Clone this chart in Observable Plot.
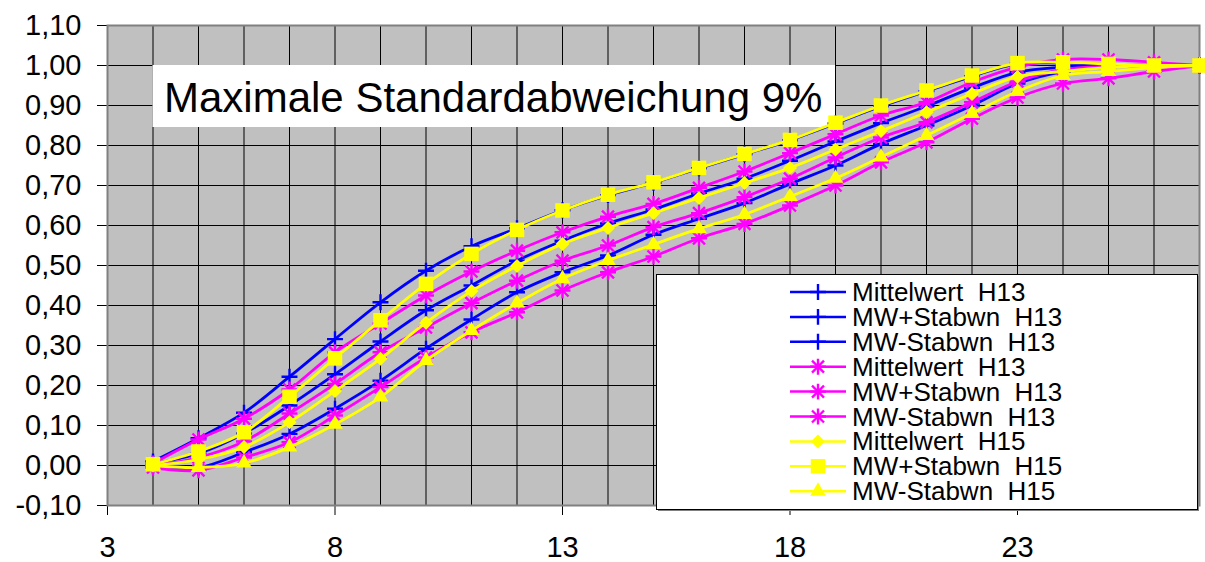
<!DOCTYPE html>
<html><head><meta charset="utf-8">
<script src="https://cdn.jsdelivr.net/npm/d3@7"></script>
<script src="https://cdn.jsdelivr.net/npm/@observablehq/plot@0.6"></script>
<style>
html,body{margin:0;padding:0;background:#fff}
#chart{position:relative;width:1205px;height:562px;overflow:hidden}
</style></head><body><div id="chart"></div>
<script>
// ---- data ----
const xValues = [4,5,6,7,8,9,10,11,12,13,14,15,16,17,18,19,20,21,22,23,24,25,26,27];
const blueMean  = [0.005,0.03,0.08,0.15,0.228,0.31,0.388,0.45,0.512,0.562,0.605,0.64,0.68,0.717,0.762,0.81,0.856,0.898,0.944,0.983,0.996,1.0,1.0,1.0];
const blueUpper = [0.01,0.068,0.132,0.222,0.316,0.408,0.487,0.548,0.593,0.638,0.676,0.707,0.743,0.778,0.813,0.855,0.898,0.936,0.973,1.004,1.006,1.003,1.0,1.0];
const blueLower = [0.0,-0.005,0.033,0.079,0.142,0.212,0.292,0.365,0.433,0.483,0.525,0.577,0.617,0.656,0.704,0.75,0.804,0.85,0.9,0.955,0.985,0.996,1.0,1.0];
const magMean   = [0.0,0.02,0.06,0.13,0.204,0.283,0.345,0.406,0.462,0.512,0.55,0.596,0.631,0.671,0.717,0.77,0.82,0.858,0.908,0.96,0.99,0.998,1.0,1.0];
const magUpper  = [0.005,0.065,0.117,0.19,0.283,0.355,0.425,0.485,0.537,0.583,0.622,0.654,0.694,0.735,0.781,0.828,0.875,0.908,0.958,0.996,1.015,1.015,1.008,1.0];
const magLower  = [-0.005,-0.012,0.02,0.058,0.125,0.196,0.27,0.333,0.383,0.4375,0.483,0.5225,0.568,0.604,0.65,0.70,0.758,0.808,0.867,0.92,0.955,0.968,0.985,1.0];
const yelMean   = [0.0,0.015,0.046,0.108,0.186,0.267,0.357,0.436,0.499,0.554,0.594,0.631,0.669,0.706,0.744,0.79,0.836,0.883,0.929,0.972,0.985,0.995,1.0,1.0];
const yelUpper  = [0.003,0.035,0.083,0.172,0.268,0.363,0.454,0.529,0.589,0.6375,0.677,0.708,0.744,0.779,0.814,0.857,0.9,0.9375,0.975,1.006,1.008,1.004,1.0,1.0];
const yelLower  = [0.0,-0.005,0.006,0.046,0.103,0.171,0.2625,0.3375,0.406,0.467,0.5125,0.5525,0.592,0.6275,0.6725,0.718,0.771,0.825,0.88,0.935,0.975,0.985,0.995,1.0];
const seriesLabels = ["Mittelwert  H13","MW+Stabwn  H13","MW-Stabwn  H13","Mittelwert  H13","MW+Stabwn  H13","MW-Stabwn  H13","Mittelwert  H15","MW+Stabwn  H15","MW-Stabwn  H15"];
const xTicks = [3,8,13,18,23];
const yTicks = [-0.1,0,0.1,0.2,0.3,0.4,0.5,0.6,0.7,0.8,0.9,1.0,1.1];
const xGrid = [4,5,6,7,8,9,10,11,12,13,14,15,16,17,18,19,20,21,22,23,24,25,26];
const yGrid = [0,0.1,0.2,0.3,0.4,0.5,0.6,0.7,0.8,0.9,1.0];
const titleText = "Maximale Standardabweichung 9%";

// ---- styles ----
const seriesValues = [blueMean, blueUpper, blueLower, magMean, magUpper, magLower, yelMean, yelUpper, yelLower];
const BLUE = "#0000FF", MAG = "#FF00FF", YEL = "#FFFF00";
const styles = [
  {color: BLUE, marker: "plus"}, {color: BLUE, marker: "plus"}, {color: BLUE, marker: "plus"},
  {color: MAG, marker: "star"}, {color: MAG, marker: "star"}, {color: MAG, marker: "star"},
  {color: YEL, marker: "diamond"}, {color: YEL, marker: "square"}, {color: YEL, marker: "triangle"}
];
const titleBox = [{x1: 4, x2: 19, y1: 0.845, y2: 1.0}];

function markerMarks(rows, st) {
  const base = {x: "x", y: "y"};
  if (st.marker === "plus") return [Plot.dot(rows, {...base, symbol: "plus", r: 5.2, stroke: st.color, strokeWidth: 2.4})];
  if (st.marker === "star") return [
    Plot.dot(rows, {...base, symbol: "plus", r: 5.2, stroke: st.color, strokeWidth: 2.4}),
    Plot.dot(rows, {...base, symbol: "times", r: 5.5, stroke: st.color, strokeWidth: 2.4})
  ];
  if (st.marker === "diamond") return [Plot.dot(rows, {...base, symbol: "diamond2", r: 6.3, fill: st.color, stroke: "none"})];
  if (st.marker === "square") return [Plot.dot(rows, {...base, symbol: "square", r: 8.2, fill: st.color, stroke: "none"})];
  return [Plot.dot(rows, {...base, symbol: "triangle", r: 5.8, fill: st.color, stroke: "none"})];
}

const seriesMarks = [];
seriesValues.forEach((vals, i) => {
  const rows = xValues.map((x, j) => ({x, y: vals[j]}));
  seriesMarks.push(Plot.line(rows, {x: "x", y: "y", stroke: styles[i].color, strokeWidth: 2.8, curve: "catmull-rom"}));
  seriesMarks.push(...markerMarks(rows, styles[i]));
});

const fmt = d => d3.format(".2f")(d).replace(".", ",").replace("−", "-");

const plot = Plot.plot({
  width: 1205, height: 562,
  marginLeft: 107, marginRight: 6, marginTop: 25, marginBottom: 57,
  style: {fontFamily: "'Liberation Sans', Arial, sans-serif", fontSize: "29px", color: "#000", background: "#fff", overflow: "visible"},
  x: {domain: [3, 27], ticks: xTicks, tickFormat: d => String(d), tickSize: 10, tickPadding: 21, label: null},
  y: {domain: [-0.1, 1.1], ticks: yTicks, tickFormat: fmt, tickSize: 10, tickPadding: 16, label: null},
  marks: [
    Plot.frame({fill: "#C0C0C0", stroke: "none"}),
    Plot.ruleX(xGrid, {stroke: "#000", strokeWidth: 1}),
    Plot.ruleY(yGrid, {stroke: "#000", strokeWidth: 1}),
    Plot.frame({stroke: "#808080", strokeWidth: 2}),
    Plot.rect(titleBox, {x1: "x1", x2: "x2", y1: "y1", y2: "y2", fill: "#fff"}),
    Plot.text(titleBox, {x: "x1", y: d => (d.y1 + d.y2) / 2, text: () => titleText, textAnchor: "start", dx: 11, dy: 2, fontSize: 42, fill: "#000"}),
    ...seriesMarks
  ]
});
document.getElementById("chart").appendChild(plot);

// ---- legend (inside plot area) ----
const svg = d3.select(plot);
const lg = svg.append("g").attr("class", "legend").attr("text-anchor", "start");
const L = {x: 656, y: 274, w: 541, h: 235, lineX1: 790, lineX2: 846, textX: 852, row0: 292, rowH: 24.9};
lg.append("rect").attr("x", L.x + 2).attr("y", L.y + 2).attr("width", L.w).attr("height", L.h).attr("fill", "#808080");
lg.append("rect").attr("x", L.x + 0.5).attr("y", L.y + 0.5).attr("width", L.w).attr("height", L.h).attr("fill", "#fff").attr("stroke", "#000").attr("stroke-width", 1);
seriesLabels.forEach((lab, i) => {
  const cy = L.row0 + i * L.rowH;
  const st = styles[i];
  const mx = (L.lineX1 + L.lineX2) / 2;
  lg.append("line").attr("x1", L.lineX1).attr("x2", L.lineX2).attr("y1", cy).attr("y2", cy).attr("stroke", st.color).attr("stroke-width", 2.5);
  const sym = (type, r) => d3.symbol(type, r * r * Math.PI)();
  const g = lg.append("g").attr("transform", `translate(${mx},${cy})`);
  if (st.marker === "plus") g.append("path").attr("d", sym(d3.symbolPlus, 5.2)).attr("fill", "none").attr("stroke", st.color).attr("stroke-width", 2.4);
  else if (st.marker === "star") {
    g.append("path").attr("d", sym(d3.symbolPlus, 5.2)).attr("fill", "none").attr("stroke", st.color).attr("stroke-width", 2.4);
    g.append("path").attr("d", sym(d3.symbolTimes, 5.5)).attr("fill", "none").attr("stroke", st.color).attr("stroke-width", 2.4);
  } else if (st.marker === "diamond") g.append("path").attr("d", sym(d3.symbolDiamond2, 6.3)).attr("fill", st.color);
  else if (st.marker === "square") g.append("path").attr("d", sym(d3.symbolSquare, 8.2)).attr("fill", st.color);
  else g.append("path").attr("d", sym(d3.symbolTriangle, 5.8)).attr("fill", st.color);
  lg.append("text").attr("x", L.textX).attr("y", cy + 9).attr("font-size", 26).attr("fill", "#000")
    .attr("text-anchor", "start").style("white-space", "pre").text(lab);
});
</script>
</body></html>
